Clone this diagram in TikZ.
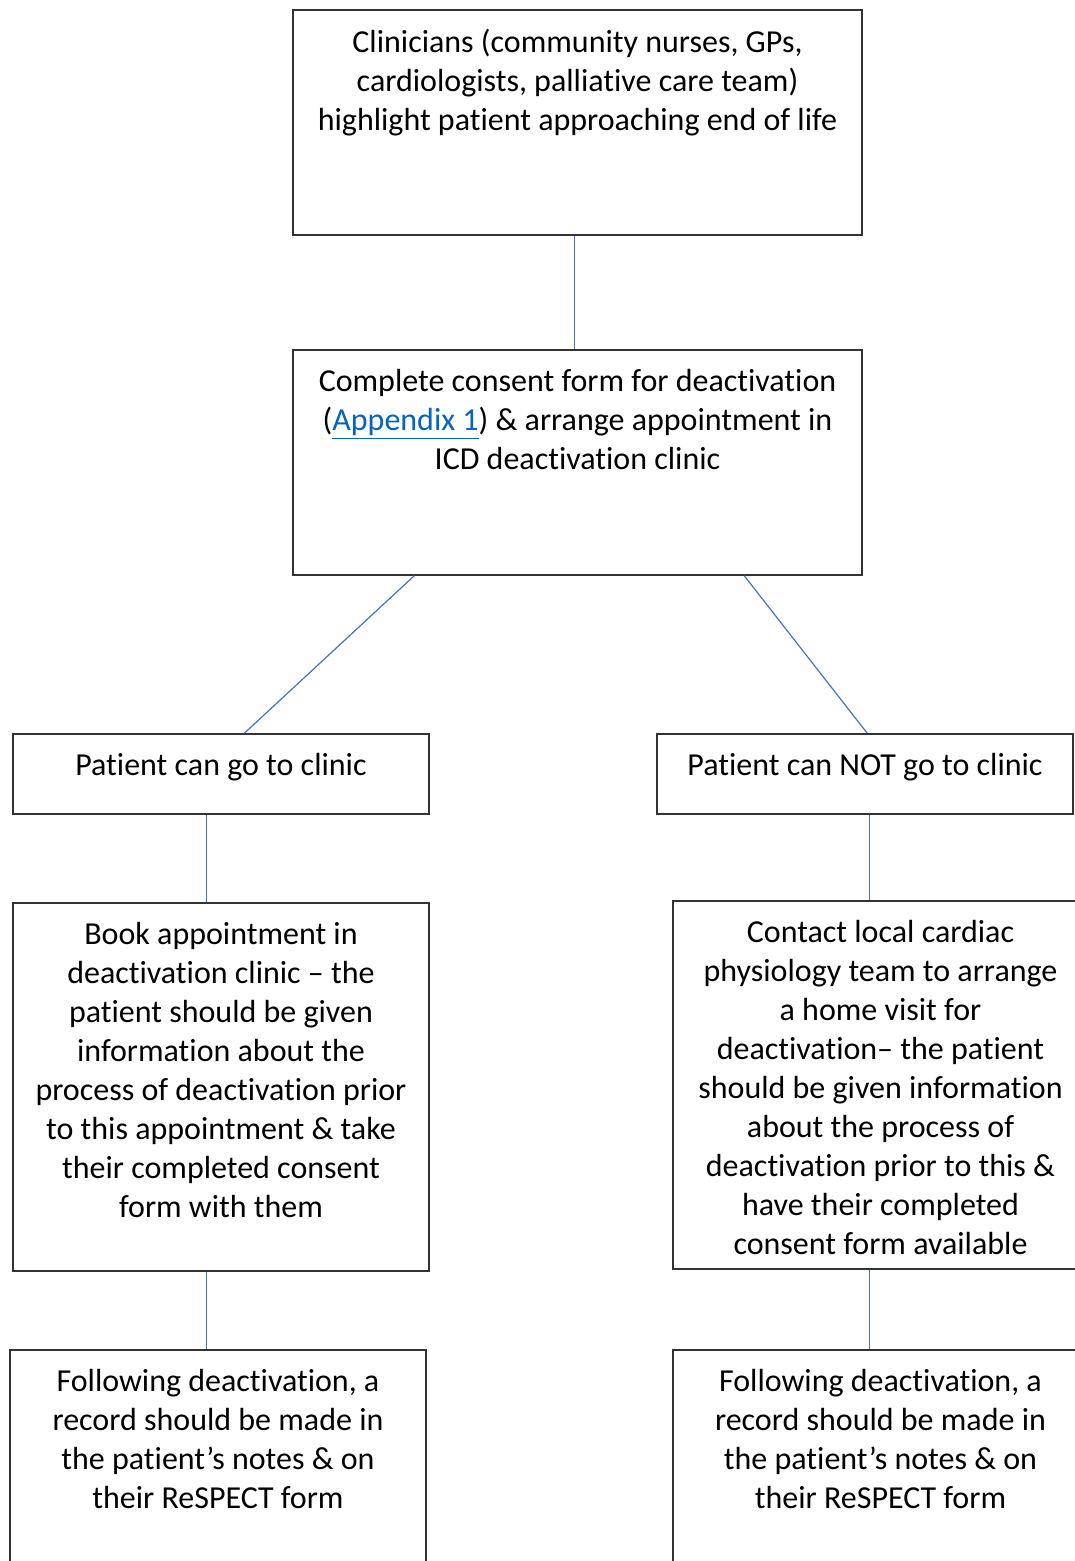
\documentclass[tikz,border=0pt]{standalone}
\usepackage{fontspec}
\setmainfont{Carlito}[RawFeature={-liga;-clig;-calt;-dlig}]
\usetikzlibrary{fit,calc}
\definecolor{conn}{HTML}{4472C4}
\definecolor{linkblue}{HTML}{0563C1}
\definecolor{edge}{HTML}{333333}
\begin{document}
\begin{tikzpicture}[x=0.75pt,y=-0.75pt,
  box/.style={draw=edge,line width=1.1pt,inner sep=0pt,fill=none},
  txt/.style={inner sep=0pt,align=center,anchor=north,font=\fontsize{24}{29.25}\selectfont},
  conline/.style={draw=conn,line width=0.9pt}]
\useasboundingbox (0,0) rectangle (1075,1561);
\clip (0,0) rectangle (1075,1561);
\fill[white] (0,0) rectangle (1075,1561);
\node[box,fit={(293,10) (862,235)}] (b1) {};
\node[box,fit={(293,350) (862,575)}] (b2) {};
\node[box,fit={(13,734) (429,814)}] (b3) {};
\node[box,fit={(657,734) (1073,814)}] (b4) {};
\node[box,fit={(13,903) (429,1271)}] (b5) {};
\node[box,fit={(673,901) (1088,1269)}] (b6) {};
\node[box,fit={(10,1350) (426,1600)}] (b7) {};
\node[box,fit={(673,1350) (1088,1600)}] (b8) {};

\node[txt] (t1) at ($(b1.north)+(0,20)$) {Clinicians (community nurses, GPs,\\cardiologists, palliative care team)\\highlight patient approaching end of life};
\node[txt] (t2) at ($(b2.north)+(0,20)$) {Complete consent form for deactivation\\(\textcolor{linkblue}{\underline{Appendix 1}}) \& arrange appointment in\\ICD deactivation clinic};
\node[txt] (t3) at ($(b3.north)+(0,20)$) {Patient can go to clinic};
\node[txt] (t4) at ($(b4.north)+(0,20)$) {Patient can NOT go to clinic};
\node[txt] (t5) at ($(b5.north)+(0,20)$) {Book appointment in\\deactivation clinic – the\\patient should be given\\information about the\\process of deactivation prior\\to this appointment \& take\\their completed consent\\form with them};
\node[txt] (t6) at ($(b6.north)+(0,20)$) {Contact local cardiac\\physiology team to arrange\\a home visit for\\deactivation– the patient\\should be given information\\about the process of\\deactivation prior to this \&\\have their completed\\consent form available};
\node[txt] (t7) at ($(b7.north)+(0,20)$) {Following deactivation, a\\record should be made in\\the patient’s notes \& on\\their ReSPECT form};
\node[txt] (t8) at ($(b8.north)+(0,20)$) {Following deactivation, a\\record should be made in\\the patient’s notes \& on\\their ReSPECT form};

\coordinate (c1) at ($(b2.south west)+(122,0)$);
\coordinate (c2) at ($(b3.north west)+(232,0)$);
\coordinate (c3) at ($(b2.south west)+(452,0)$);
\coordinate (c4) at ($(b4.north west)+(211,0)$);
\draw[conline] ($(b1.south west)+(282,0)$) -- ($(b2.north west)+(282,0)$);
\draw[conline] (c1) -- (c2);
\draw[conline] (c3) -- (c4);
\draw[conline] ($(b3.south west)+(194,0)$) -- ($(b5.north west)+(194,0)$);
\draw[conline] ($(b4.south west)+(213,0)$) -- ($(b6.north west)+(197,0)$);
\draw[conline] ($(b5.south west)+(194,0)$) -- ($(b7.north west)+(197,0)$);
\draw[conline] ($(b6.south west)+(197,0)$) -- ($(b8.north west)+(197,0)$);
\end{tikzpicture}
\end{document}
